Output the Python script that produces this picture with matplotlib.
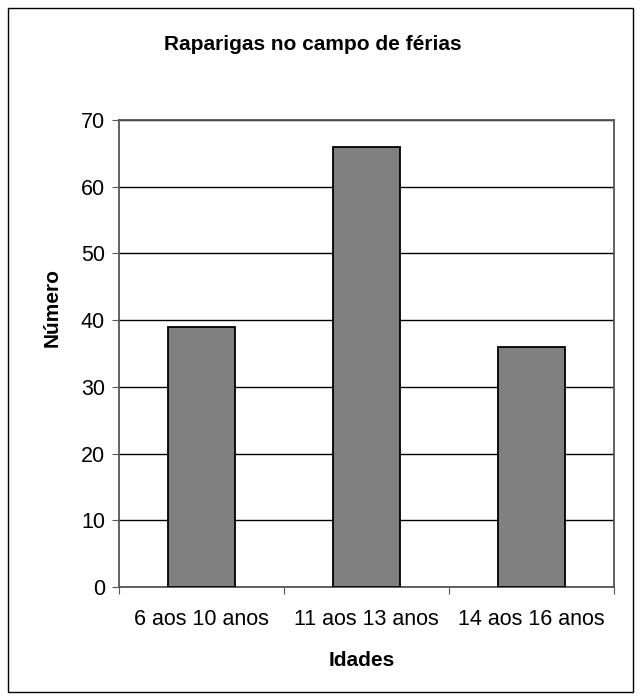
import matplotlib
matplotlib.use("Agg")
import matplotlib.pyplot as plt
from matplotlib.patches import Rectangle

categories = ["6 aos 10 anos", "11 aos 13 anos", "14 aos 16 anos"]
values = [39, 66, 36]
yticks = [0, 10, 20, 30, 40, 50, 60, 70]

plt.rcParams['font.family'] = ['Liberation Sans', 'DejaVu Sans']

W, H = 640, 700
fig = plt.figure(figsize=(6.4, 7.0), dpi=100)
ax = fig.add_axes([119/W, 1-587/H, (614-119)/W, (587-120)/H])

x = list(range(len(categories)))
ax.bar(x, values, width=0.41, color="#808080", edgecolor="black", linewidth=1.3, zorder=3)

ax.set_xlim(-0.5, len(categories) - 0.5)
ax.set_ylim(0, 70)
ax.set_yticks(yticks)
ax.set_yticklabels([str(t) for t in yticks], fontsize=15.5)
ax.yaxis.grid(True, color="black", linewidth=1.0, zorder=0)
ax.set_axisbelow(True)

ax.set_xticks([i + 0.5 for i in range(-1, len(categories))])
ax.set_xticklabels([])
ax.set_xticks(x, minor=True)
ax.set_xticklabels(categories, minor=True, fontsize=15.5)
ax.tick_params(axis='x', which='minor', length=0, pad=16)
ax.tick_params(axis='x', which='major', length=5, direction='out', color='#555555')
ax.tick_params(axis='y', length=5, direction='out', color='#555555', pad=5)

for s in ax.spines.values():
    s.set_color("#555555")
    s.set_linewidth(1.3)

fig.text(313/W, 1-44/H, "Raparigas no campo de férias", fontsize=15, fontweight='bold',
         ha='center', va='center')
fig.text(52/W, 1-308/H, "Número", fontsize=15, fontweight='bold', rotation=90,
         ha='center', va='center')
fig.text(362/W, 1-660/H, "Idades", fontsize=15, fontweight='bold',
         ha='center', va='center')

fig.patches.append(Rectangle((8/W, 8/H), 625/W, 684/H, transform=fig.transFigure,
                             fill=False, edgecolor="black", linewidth=1.0))

fig.savefig("out.png", dpi=100)
